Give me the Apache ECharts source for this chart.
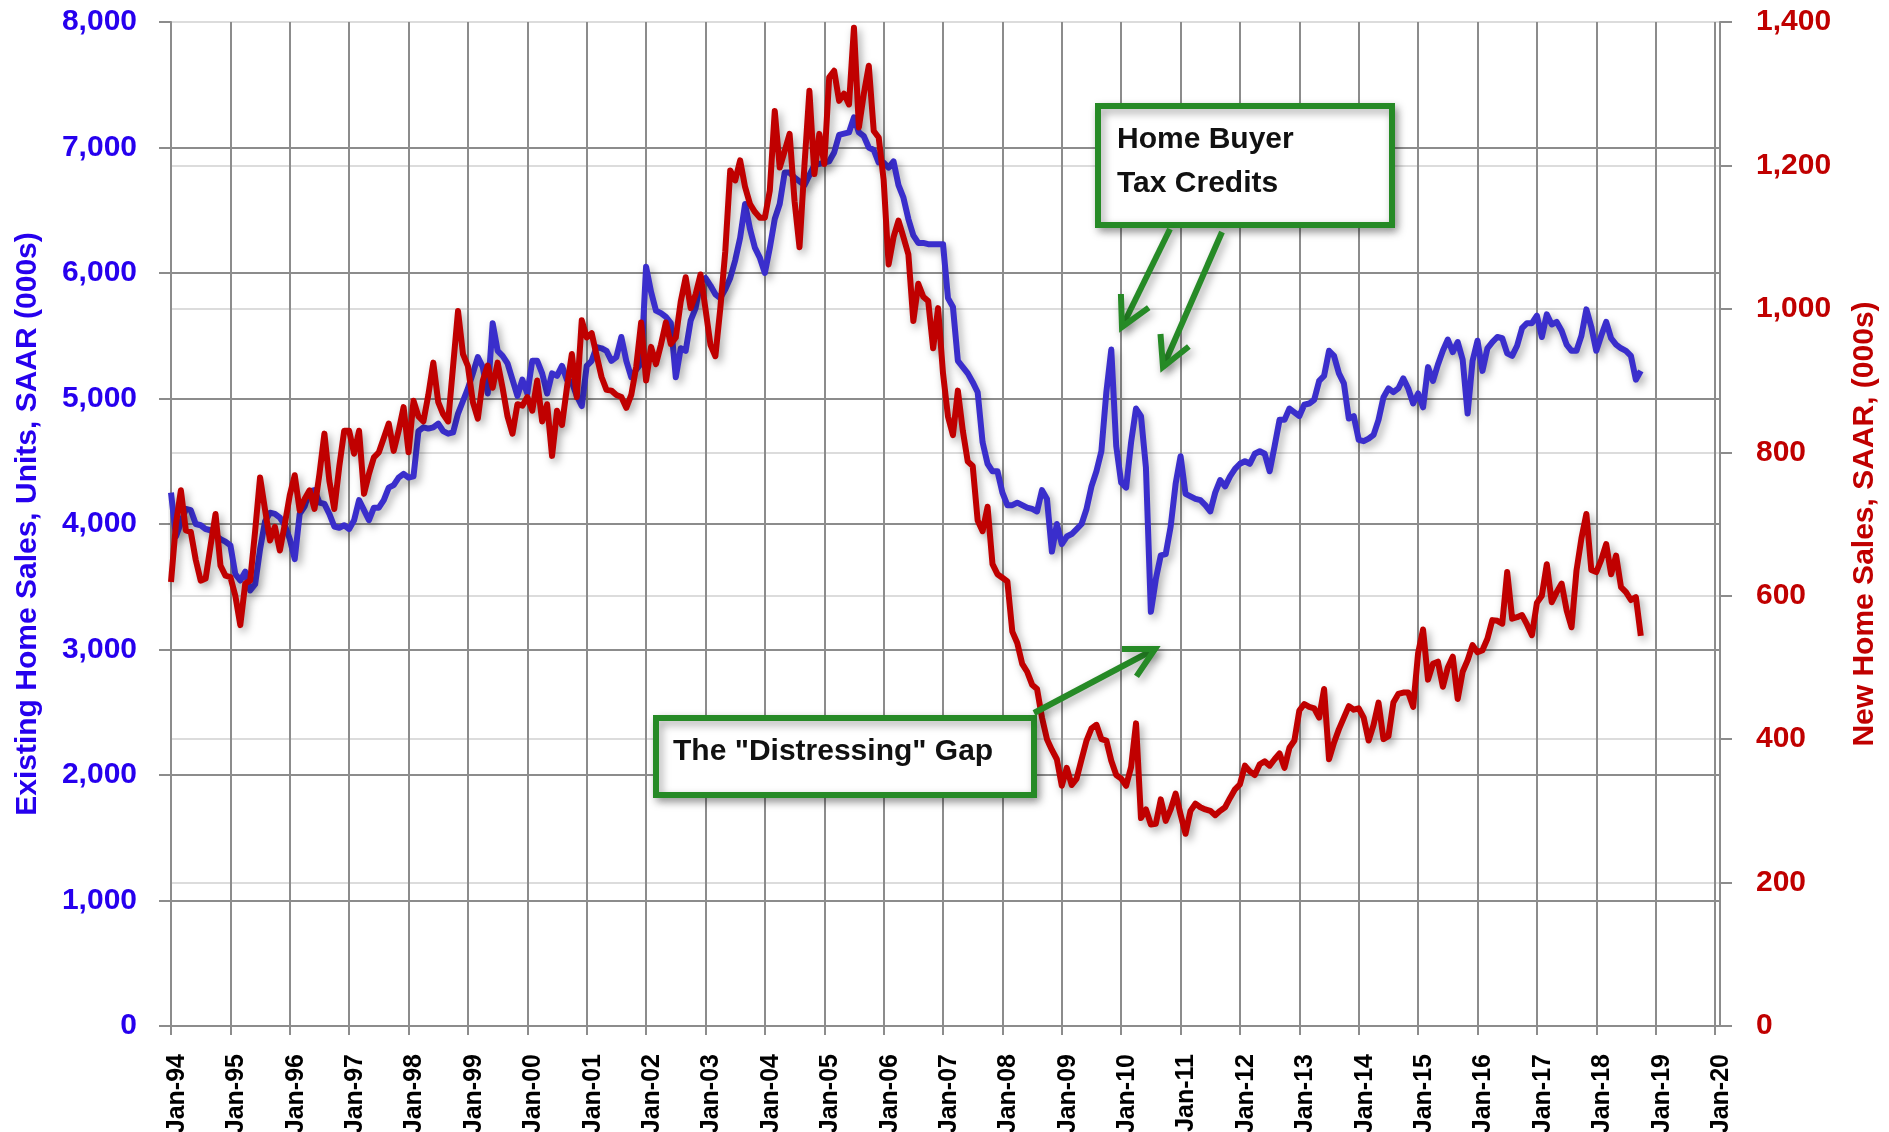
<!DOCTYPE html>
<html>
<head>
<meta charset="utf-8">
<title>Existing vs New Home Sales</title>
<script src="https://cdn.jsdelivr.net/npm/echarts@6/dist/echarts.min.js"></script>
<style>
  html, body { margin: 0; padding: 0; background: #fff; }
  #chart { width: 1889px; height: 1132px; }
</style>
</head>
<body>
<div id="chart"></div>
<script>
// monthly, Jan-94 .. Oct-18 (thousands, SAAR)
var existingSales = [
  4250, 3900, 4010, 4120, 4110, 4000, 3990, 3960, 3950, 3910, 3880, 3860, // 1994
  3830, 3600, 3550, 3620, 3470, 3520, 3800, 4020, 4090, 4080, 4050, 3990, // 1995
  3880, 3720, 4080, 4140, 4260, 4270, 4170, 4160, 4080, 3980, 3970, 3990, // 1996
  3960, 4030, 4190, 4110, 4030, 4130, 4130, 4190, 4290, 4310, 4370, 4400, // 1997
  4370, 4380, 4740, 4770, 4760, 4770, 4800, 4740, 4720, 4730, 4880, 4980, // 1998
  5080, 5200, 5330, 5250, 5040, 5600, 5380, 5340, 5280, 5150, 5020, 5150, // 1999
  5040, 5300, 5300, 5200, 5040, 5200, 5180, 5260, 5150, 5130, 5020, 4940, // 2000
  5260, 5300, 5410, 5400, 5380, 5300, 5330, 5490, 5300, 5170, 5230, 5280, // 2001
  6050, 5850, 5700, 5680, 5650, 5600, 5170, 5400, 5380, 5620, 5720, 5930, // 2002
  5960, 5900, 5830, 5800, 5870, 5960, 6100, 6280, 6550, 6350, 6200, 6120, // 2003
  6000, 6200, 6430, 6550, 6800, 6800, 6760, 6730, 6700, 6780, 6860, 6870, // 2004
  6880, 6890, 6960, 7100, 7110, 7120, 7240, 7120, 7090, 7000, 6980, 6880, // 2005
  6880, 6840, 6890, 6700, 6600, 6430, 6300, 6240, 6240, 6230, 6230, 6230, // 2006
  6230, 5800, 5730, 5300, 5250, 5200, 5130, 5050, 4650, 4480, 4420, 4420, // 2007
  4250, 4150, 4150, 4170, 4150, 4130, 4120, 4100, 4270, 4200, 3780, 4000, // 2008
  3840, 3900, 3920, 3960, 4000, 4120, 4300, 4420, 4580, 5050, 5390, 4620, // 2009
  4330, 4290, 4650, 4920, 4860, 4450, 3300, 3560, 3750, 3760, 3980, 4320, // 2010
  4540, 4240, 4220, 4200, 4190, 4150, 4100, 4250, 4350, 4300, 4380, 4440, // 2011
  4480, 4500, 4480, 4560, 4580, 4560, 4420, 4620, 4830, 4830, 4920, 4890, // 2012
  4860, 4950, 4960, 4990, 5140, 5180, 5380, 5340, 5200, 5120, 4840, 4860, // 2013
  4670, 4660, 4680, 4710, 4830, 5010, 5080, 5050, 5080, 5160, 5080, 4960, // 2014
  5040, 4930, 5250, 5140, 5270, 5380, 5470, 5370, 5450, 5310, 4880, 5300, // 2015
  5460, 5220, 5400, 5450, 5490, 5480, 5360, 5340, 5420, 5560, 5600, 5600, // 2016
  5660, 5490, 5670, 5590, 5610, 5540, 5430, 5380, 5380, 5500, 5710, 5570, // 2017
  5380, 5500, 5610, 5480, 5430, 5400, 5380, 5340, 5150, 5220              // 2018
]
var newSales = [
  619, 700, 747, 691, 689, 650, 621, 624, 670, 714, 642, 628, // 1994
  626, 600, 559, 617, 621, 690, 765, 720, 677, 696, 663, 700, // 1995
  740, 768, 719, 735, 747, 721, 770, 826, 760, 721, 780, 830, // 1996
  830, 798, 830, 742, 770, 793, 800, 820, 840, 802, 830, 863, // 1997
  800, 872, 850, 843, 880, 925, 870, 853, 843, 920, 997, 937, // 1998
  920, 870, 847, 900, 921, 890, 925, 890, 850, 826, 867, 865, // 1999
  877, 858, 900, 843, 867, 795, 858, 838, 890, 937, 877, 984, // 2000
  960, 966, 935, 905, 887, 886, 880, 877, 862, 880, 919, 981, // 2001
  900, 947, 923, 950, 981, 951, 960, 1010, 1044, 1001, 1020, 1048, // 2002
  1000, 950, 934, 1001, 1080, 1193, 1179, 1207, 1170, 1146, 1135, 1127, // 2003
  1127, 1165, 1276, 1197, 1220, 1244, 1150, 1086, 1200, 1304, 1188, 1244, // 2004
  1202, 1323, 1332, 1290, 1300, 1285, 1392, 1253, 1300, 1339, 1248, 1239, // 2005
  1180, 1062, 1100, 1123, 1100, 1076, 983, 1035, 1017, 1011, 945, 1001, // 2006
  910, 850, 824, 886, 830, 787, 781, 705, 690, 724, 644, 630, // 2007
  625, 620, 550, 534, 505, 494, 476, 470, 430, 400, 385, 372, // 2008
  335, 360, 336, 345, 372, 398, 415, 420, 400, 398, 370, 350, // 2009
  345, 335, 361, 422, 290, 302, 281, 282, 316, 286, 302, 324, // 2010
  295, 268, 300, 310, 305, 302, 300, 294, 300, 305, 318, 330, // 2011
  337, 363, 355, 350, 365, 369, 363, 372, 380, 360, 388, 398, // 2012
  440, 449, 445, 443, 430, 470, 372, 395, 414, 430, 446, 441, // 2013
  443, 430, 398, 420, 451, 400, 404, 451, 463, 465, 465, 445, // 2014
  520, 553, 483, 505, 508, 473, 500, 515, 456, 494, 510, 531, // 2015
  521, 524, 540, 566, 565, 561, 633, 568, 570, 573, 560, 545, // 2016
  590, 600, 644, 591, 605, 617, 580, 556, 635, 680, 714, 636, // 2017
  633, 650, 672, 630, 656, 612, 605, 594, 598, 544            // 2018
]

// x categories: Jan-94 .. Feb-20, only January is labelled
var monthNames = ['Jan', 'Feb', 'Mar', 'Apr', 'May', 'Jun', 'Jul', 'Aug', 'Sep', 'Oct', 'Nov', 'Dec']
var months = []
for (var y = 1994; y <= 2020; y++) {
  for (var m = 0; m < 12; m++) {
    if (y === 2020 && m > 1) break
    months.push(monthNames[m] + '-' + String(y).slice(2))
  }
}
var isJan = function (index, value) { return value.indexOf('Jan') === 0 }

var leftTicks = { min: 0, max: 8000, interval: 1000 }
var rightTicks = { min: 0, max: 1400, interval: 200 }

var blue = '#3a2ecc'
var red = '#c00000'
var blueText = '#2600ee'
var green = '#268a26'
var gridGray = '#8c8c8c'
var font = 'Liberation Sans'

var shadow = { shadowColor: 'rgba(0,0,0,0.35)', shadowBlur: 8, shadowOffsetX: 3, shadowOffsetY: 4 }

function arrow(x1, y1, x2, y2) {
  var a = Math.atan2(y2 - y1, x2 - x1), len = 33, spread = 28 * Math.PI / 180
  var p1 = [x2 - len * Math.cos(a - spread), y2 - len * Math.sin(a - spread)]
  var p2 = [x2 - len * Math.cos(a + spread), y2 - len * Math.sin(a + spread)]
  return [
    { type: 'line', z: 100, shape: { x1: x1, y1: y1, x2: x2, y2: y2 },
      style: Object.assign({ stroke: green, lineWidth: 6 }, shadow) },
    { type: 'polyline', z: 100, shape: { points: [p1, [x2, y2], p2] },
      style: Object.assign({ stroke: green, lineWidth: 6, fill: null }, shadow) }
  ]
}

function box(x, y, w, h) {
  return { type: 'rect', z: 99, shape: { x: x, y: y, width: w, height: h },
    style: Object.assign({ fill: '#fff', stroke: green, lineWidth: 6 }, shadow) }
}

function label(text, x, y) {
  return { type: 'text', z: 101, x: x, y: y,
    style: { text: text, fill: '#111', font: 'bold 30px "' + font + '"', verticalAlign: 'middle' } }
}

var annotations = [].concat(
  arrow(1170, 229, 1122, 327),
  arrow(1222, 232, 1163, 367),
  arrow(1034, 713, 1155, 649),
  [box(1098, 106, 294, 119), label('Home Buyer', 1117, 140), label('Tax Credits', 1117, 184)],
  [box(656, 718, 378, 77), label('The "Distressing" Gap', 673, 752)]
)

var chart = echarts.init(document.getElementById('chart'))
var option = {
  animation: false,
  backgroundColor: '#fff',
  grid: { left: 171, right: 169, top: 22, bottom: 106, containLabel: false, outerBoundsMode: 'none' },
  xAxis: {
    type: 'category',
    data: months,
    boundaryGap: false,
    axisLine: { lineStyle: { color: gridGray, width: 2 } },
    axisTick: { show: true, interval: isJan, length: 9, lineStyle: { color: gridGray, width: 2 } },
    axisLabel: {
      interval: isJan, rotate: 90, margin: 28,
      verticalAlign: 'top', lineHeight: 12,
      color: '#000', fontFamily: font, fontWeight: 'bold', fontSize: 25,
      formatter: function (v) { return v.indexOf('Jan') === 0 ? v : '' }
    },
    splitLine: { show: true, interval: isJan, lineStyle: { color: gridGray, width: 2 } }
  },
  yAxis: [
    {
      type: 'value',
      min: leftTicks.min, max: leftTicks.max, interval: leftTicks.interval,
      name: 'Existing Home Sales, Units, SAAR (000s)',
      nameLocation: 'middle', nameRotate: 90, nameGap: 128,
      nameTextStyle: { color: blueText, fontFamily: font, fontWeight: 'bold', fontSize: 30 },
      axisLine: { show: true, lineStyle: { color: gridGray, width: 2 } },
      axisTick: { show: true, length: 12, lineStyle: { color: gridGray, width: 2 } },
      axisLabel: {
        margin: 34, color: blueText, fontFamily: font, fontWeight: 'bold', fontSize: 30,
        formatter: function (v) { return v.toLocaleString('en-US') }
      },
      splitLine: { show: true, lineStyle: { color: gridGray, width: 2 } }
    },
    {
      type: 'value',
      position: 'right',
      min: rightTicks.min, max: rightTicks.max, interval: rightTicks.interval,
      name: 'New Home Sales, SAAR, (000s)',
      nameLocation: 'middle', nameRotate: 90, nameGap: 130,
      nameTextStyle: { color: red, fontFamily: font, fontWeight: 'bold', fontSize: 30 },
      axisLine: { show: true, lineStyle: { color: gridGray, width: 2 } },
      axisTick: { show: true, length: 12, lineStyle: { color: gridGray, width: 2 } },
      axisLabel: {
        margin: 36, color: red, fontFamily: font, fontWeight: 'bold', fontSize: 30,
        formatter: function (v) { return v.toLocaleString('en-US') }
      },
      splitLine: { show: true, lineStyle: { color: '#dcdcdc', width: 2 } }
    }
  ],
  series: [
    {
      name: 'Existing Home Sales',
      type: 'line',
      yAxisIndex: 0,
      data: existingSales,
      showSymbol: false,
      symbol: 'none',
      lineStyle: Object.assign({ color: blue, width: 6, join: 'round' }, shadow),
      z: 3
    },
    {
      name: 'New Home Sales',
      type: 'line',
      yAxisIndex: 1,
      data: newSales,
      showSymbol: false,
      symbol: 'none',
      lineStyle: Object.assign({ color: red, width: 6, join: 'round' }, shadow),
      z: 4
    }
  ],
  graphic: annotations
}
chart.setOption(option)
</script>
</body>
</html>
